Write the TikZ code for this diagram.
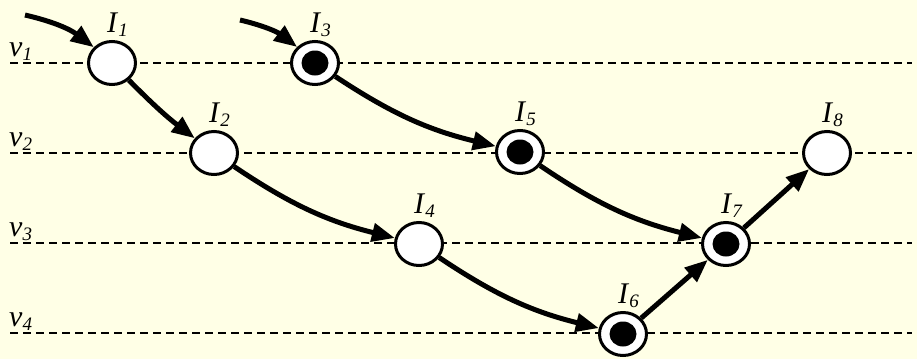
\documentclass[tikz,border=0pt]{standalone}
\usepackage{fontspec}
\setmainfont{Liberation Serif}
\usetikzlibrary{shapes.geometric,arrows.meta,calc}
\definecolor{paper}{RGB}{255,255,230}
\newcommand\sublab[2]{\fontsize{30}{32}\selectfont\textit{#1}\raisebox{-4pt}{\fontsize{19}{19}\selectfont\itshape #2}}
\begin{document}
\begin{tikzpicture}[x=1pt,y=-1pt,
  state/.style={ellipse,draw,line width=3pt,fill=white,minimum width=47pt,minimum height=43pt,inner sep=0pt},
  token/.style={ellipse,fill=black,minimum width=27pt,minimum height=25pt,inner sep=0pt},
  level/.style={line width=2.2pt,dash pattern=on 8pt off 5pt},
  flow/.style={line width=5pt,-{Triangle[length=23pt,width=18pt]}},
  lbl/.style={inner sep=0pt,anchor=base west}]
  \fill[paper] (0,0) rectangle (917,359);
  \useasboundingbox (0,0) rectangle (917,359);
  % levels
  \foreach \i/\y in {1/63,2/153,3/243,4/333}{
    \draw[level] (10,\y) -- (912,\y);
    \node[lbl] (v\i) at (9,\y-7) {\sublab{v}{\i}};
  }
  % states
  \node[state] (I1) at (112,63) {};
  \node[state] (I2) at (214,153) {};
  \node[state] (I3) at (315,63) {};
  \node[state] (I4) at (419,244) {};
  \node[state] (I5) at (520,152) {};
  \node[state] (I6) at (623,334) {};
  \node[state] (I7) at (726,244) {};
  \node[state] (I8) at (827,153) {};
  % marked states carry a token
  \foreach \n in {3,5,6,7}{
    \node[token] (T\n) at (I\n.center) {};
  }
  \foreach \n in {1,...,8}{
    \node[lbl] (L\n) at ($(I\n.center)+(-5,-31)$) {\sublab{I}{\n}};
  }
  % entry points
  \coordinate (s1) at (25,15);
  \coordinate (s3) at (240,20);
  % transitions
  \draw[flow] (s1) to[bend left=12] (I1);
  \draw[flow] (s3) to[bend left=12] (I3);
  \draw[flow] (I1) to[bend right=4] (I2);
  \draw[flow] (I2) to[bend right=10] (I4);
  \draw[flow] (I4) to[bend right=10] (I6);
  \draw[flow] (I3) to[bend right=10] (I5);
  \draw[flow] (I5) to[bend right=10] (I7);
  \draw[flow] (I6) -- (I7);
  \draw[flow] (I7) -- (I8);
\end{tikzpicture}
\end{document}
